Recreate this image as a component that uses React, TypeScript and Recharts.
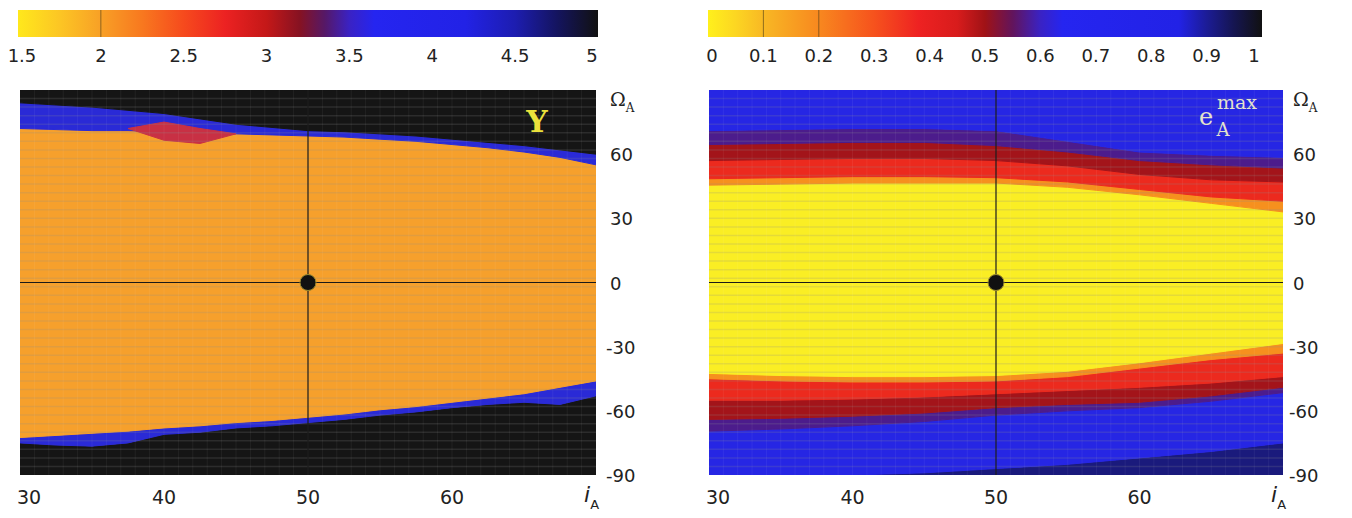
import React from 'react';
import { ComposedChart, Area, XAxis, YAxis, ReferenceLine, ReferenceDot } from 'recharts';

const FONT = '"DejaVu Sans", Verdana, sans-serif';
const SERIF = '"DejaVu Serif", "Liberation Serif", serif';
const INK = '#222222';

// colour bar scales
const UPS_DOMAIN = [1.5, 5];
const UPS_TICKS = [1.5, 2, 2.5, 3, 3.5, 4, 4.5, 5];
const UPS_STOPS = [1.5, 1.75, 2, 2.25, 2.5, 2.75, 3, 3.2, 3.35, 3.5, 3.65, 4.2, 4.5, 4.75, 5];
const UPS_COLORS = ['#ffe81c', '#fcc624', '#f8a026', '#f8781f', '#f64a1d', '#ec2222', '#c41818', '#861222', '#561866', '#3a22c4', '#2525f0', '#2222e6', '#1d1db0', '#141460', '#111111'];
const UPS_MARKS = [2];

const ECC_DOMAIN = [0, 1];
const ECC_TICKS = [0, 0.1, 0.2, 0.3, 0.4, 0.5, 0.6, 0.7, 0.8, 0.9, 1];
const ECC_STOPS = [0, 0.05, 0.1, 0.2, 0.3, 0.38, 0.45, 0.5, 0.55, 0.6, 0.64, 0.85, 0.9, 0.95, 1];
const ECC_COLORS = ['#fff01c', '#fcd622', '#f8b824', '#f8881f', '#f6521d', '#ee2222', '#d81c1c', '#a01216', '#62145c', '#3a22c4', '#2525f0', '#2222e6', '#1c1c96', '#151550', '#111111'];
const ECC_MARKS = [0.1, 0.2];

// panel axes
const X_TICKS = [30, 40, 50, 60, 70];
const Y_TICKS = [-90, -60, -30, 0, 30, 60, 90];

// left panel: Upsilon map, boundaries in Omega_A (deg) for each i_A
const L_I = [30, 32.5, 35, 37.5, 40, 42.5, 45, 47.5, 50, 52.5, 55, 57.5, 60, 62.5, 65, 67.5, 70];
const L_BLUE_TOP = [84, 83, 82, 80.5, 79, 76.5, 74, 72.5, 71, 70.5, 69.5, 68.5, 67, 65.5, 64, 62, 60];
const L_ORANGE_TOP = [72, 71.5, 71, 71, 70.5, 69, 69.5, 69, 68.5, 68, 67, 66, 64.5, 63, 61, 58.5, 55];
const L_ORANGE_BOT = [-72.5, -71.5, -70.5, -69.5, -68, -67, -65.5, -64.5, -63, -61.5, -59.5, -58, -56, -54, -52, -49, -46];
const L_BLUE_BOT = [-75, -76, -76.5, -75, -71, -70, -68, -67, -65.5, -64, -62, -60.5, -58.5, -57, -56, -57, -53];
const L_PATCH_LO = [null, null, null, 72, 66.5, 65, 69.5, null, null, null, null, null, null, null, null, null, null];
const L_PATCH_HI = [null, null, null, 72, 75, 72, 69.5, null, null, null, null, null, null, null, null, null, null];

// right panel: e_A^max map, band edges in Omega_A (deg) for each i_A
const R_I = [30, 35, 40, 45, 50, 55, 60, 65, 70];
const R_NAVY_TOP = [-90, -90, -90, -89, -87, -85, -82, -79, -75];
const R_PURPLE_LO = [-69.5, -68.5, -67, -65, -62, -60, -58.5, -55.5, -51.5];
const R_DKRED_LO = [-64, -63.5, -62.5, -61, -58.5, -57, -56, -53, -49];
const R_RED_LO = [-55, -55, -54.5, -53.5, -52, -50.5, -49, -47, -44];
const R_ORANGE_LO = [-45, -46, -46.5, -46.5, -46, -44, -40, -36, -33];
const R_YELLOW_LO = [-42.5, -43.5, -44, -44, -43.5, -41.5, -37.5, -33, -28.5];
const R_YELLOW_HI = [45.5, 46, 46.5, 46.5, 46.5, 44.5, 41, 37, 33];
const R_ORANGE_HI = [48.5, 49, 49.5, 49.5, 49, 47, 43.5, 40, 38];
const R_RED_HI = [57, 57.5, 58, 58, 57, 54.5, 50.5, 48, 47];
const R_DKRED_HI = [64.5, 65, 65.5, 65.5, 64, 61, 57, 55, 53.5];
const R_PURPLE_HI = [71, 71.5, 72, 72, 71, 66, 61, 59.5, 58.5];

const FLOOR = -90;
const CEIL = 90;

// faint raster rows / columns of the original map
const ROW_LINES = Array.from({ length: 44 }, (_, k) => -86 + 4 * k);
const COL_LINES = Array.from({ length: 39 }, (_, k) => 31 + k);

type Band = { key: string; color: string };

function buildRows(xs: number[], edges: number[][]) {
  return xs.map((i, k) => {
    const row: any = { i };
    for (let b = 0; b < edges.length - 1; b++) {
      row['b' + b] = [edges[b][k], edges[b + 1][k]];
    }
    return row;
  });
}

const leftEdges = [
  L_I.map(() => FLOOR), L_BLUE_BOT, L_ORANGE_BOT, L_ORANGE_TOP, L_BLUE_TOP, L_I.map(() => CEIL),
];
const leftBands: Band[] = ['#151515', '#2a2ad6', '#f6a02c', '#2a2ad6', '#151515'].map((c, b) => ({ key: 'b' + b, color: c }));
const leftRows = buildRows(L_I, leftEdges).map((r, k) => ({
  ...r,
  patch: L_PATCH_LO[k] == null ? null : [L_PATCH_LO[k], L_PATCH_HI[k]],
}));

const rightEdges = [
  R_I.map(() => FLOOR), R_NAVY_TOP, R_PURPLE_LO, R_DKRED_LO, R_RED_LO, R_ORANGE_LO, R_YELLOW_LO,
  R_YELLOW_HI, R_ORANGE_HI, R_RED_HI, R_DKRED_HI, R_PURPLE_HI, R_I.map(() => CEIL),
];
const rightBands: Band[] = [
  '#1a1a7c', '#2626e4', '#4c1c8c', '#a3141a', '#ec2a1e', '#f6901e', '#faee24',
  '#f6901e', '#ec2a1e', '#a3141a', '#4c1c8c', '#2626e4',
].map((c, b) => ({ key: 'b' + b, color: c }));
const rightRows = buildRows(R_I, rightEdges);

function Gradients() {
  const grad = (id: string, domain: number[], stops: number[], colors: string[]) => (
    <linearGradient id={id} x1="0" y1="0" x2="1" y2="0">
      {stops.map((s, k) => (
        <stop key={k} offset={(s - domain[0]) / (domain[1] - domain[0])} stopColor={colors[k]} />
      ))}
    </linearGradient>
  );
  return (
    <svg width={0} height={0} style={{ position: 'absolute' }}>
      <defs>
        {grad('gradUps', UPS_DOMAIN, UPS_STOPS, UPS_COLORS)}
        {grad('gradEcc', ECC_DOMAIN, ECC_STOPS, ECC_COLORS)}
      </defs>
    </svg>
  );
}

function ColorBar({ left, width, domain, ticks, marks, id, marginRight, shifts }: any) {
  const Tick = ({ x, y, payload }: any) => {
    const dx = payload.value === domain[0] ? shifts[0] : payload.value === domain[1] ? shifts[1] : 0;
    return (
      <text x={x + dx} y={y + 25} textAnchor="middle" fontSize={18} fontFamily={FONT} fill={INK}>
        {payload.value}
      </text>
    );
  };
  const data = [{ v: domain[0], band: [0, 1] }, { v: domain[1], band: [0, 1] }];
  return (
    <div style={{ position: 'absolute', left, top: 0 }}>
      <ComposedChart width={width} height={75} margin={{ top: 10, right: marginRight, bottom: 0, left: 18 }} data={data}>
        <XAxis type="number" dataKey="v" domain={domain} ticks={ticks} height={38} axisLine={false} tickLine={false} tickSize={0} tickMargin={0} tick={<Tick />} interval={0} />
        <YAxis type="number" hide domain={[0, 1]} />
        <Area type="linear" dataKey="band" fill={`url(#${id})`} fillOpacity={1} stroke="none" dot={false} activeDot={false} isAnimationActive={false} />
        {marks.map((m: number) => (
          <ReferenceLine key={m} x={m} stroke="#4a3a18" strokeOpacity={0.6} strokeWidth={1} />
        ))}
      </ComposedChart>
    </div>
  );
}

function XTick({ x, y, payload }: any) {
  const v = payload.value;
  if (v === 70) {
    return (
      <text x={x - 12} y={y + 27} fontFamily={FONT} fill={INK}>
        <tspan fontSize={22} fontStyle="italic">i</tspan>
        <tspan fontSize={13} dy={7}>A</tspan>
      </text>
    );
  }
  const dx = v === 30 ? 9 : 0;
  return (
    <text x={x + dx} y={y + 29} textAnchor="middle" fontSize={19} fontFamily={FONT} fill={INK}>
      {v}
    </text>
  );
}

const makeYTick = (gap: number) => ({ x, y, payload }: any) => {
  const v = payload.value;
  if (v === 90) {
    return (
      <text x={x + gap} y={y + 16} fontFamily={SERIF} fill={INK}>
        <tspan fontSize={19}>Ω</tspan>
        <tspan fontSize={12} dy={6}>A</tspan>
      </text>
    );
  }
  return (
    <text x={x + gap - (v < 0 ? 4 : 0)} y={y + 7} fontSize={18} fontFamily={FONT} fill={INK}>
      {v}
    </text>
  );
};

function Heatmap({ left, width, marginLeft, marginRight, axisWidth, gap, rows, bands, extra, overlay }: any) {
  const YTick = makeYTick(gap);
  return (
    <div style={{ position: 'absolute', left, top: 80, width, height: 438 }}>
      <ComposedChart width={width} height={438} data={rows} margin={{ top: 10, right: marginRight, bottom: 3, left: marginLeft }}>
        <XAxis type="number" dataKey="i" domain={[30, 70]} ticks={X_TICKS} interval={0} height={40} axisLine={false} tickLine={false} tickSize={0} tickMargin={0} tick={<XTick />} allowDataOverflow />
        <YAxis type="number" orientation="right" domain={[-90, 90]} ticks={Y_TICKS} interval={0} width={axisWidth} axisLine={false} tickLine={false} tickSize={0} tickMargin={0} tick={<YTick />} allowDataOverflow />
        {bands.map((b: Band) => (
          <Area key={b.key} type="linear" dataKey={b.key} fill={b.color} fillOpacity={1} stroke={b.color} strokeWidth={1} dot={false} activeDot={false} isAnimationActive={false} />
        ))}
        {extra}
        {ROW_LINES.map((r) => (
          <ReferenceLine key={'r' + r} y={r} stroke="#8a8a8a" strokeOpacity={0.2} strokeWidth={1.5} />
        ))}
        {COL_LINES.map((c) => (
          <ReferenceLine key={'c' + c} x={c} stroke="#ffffff" strokeOpacity={0.06} strokeWidth={1} />
        ))}
        <ReferenceLine x={50} stroke="#1a1a1a" strokeWidth={1.2} />
        <ReferenceLine y={0} stroke="#1a1a1a" strokeWidth={1.2} />
        <ReferenceDot x={50} y={0} r={8} fill="#111111" stroke="#9a8a30" strokeWidth={1} />
      </ComposedChart>
      <svg width={width} height={438} style={{ position: 'absolute', left: 0, top: 0, pointerEvents: 'none' }}>
        {overlay}
      </svg>
    </div>
  );
}

export default function App() {
  return (
    <div style={{ position: 'absolute', left: 0, top: 0, width: 1352, height: 518, background: '#ffffff', overflow: 'hidden' }}>
      <Gradients />
      <ColorBar left={0} width={640} domain={UPS_DOMAIN} ticks={UPS_TICKS} marks={UPS_MARKS} id="gradUps" marginRight={42} shifts={[4, -6]} />
      <ColorBar left={690} width={662} domain={ECC_DOMAIN} ticks={ECC_TICKS} marks={ECC_MARKS} id="gradEcc" marginRight={90} shifts={[4, -8]} />
      <Heatmap
        left={0}
        width={680}
        marginLeft={20}
        marginRight={24}
        axisWidth={60}
        gap={14}
        rows={leftRows}
        bands={leftBands}
        extra={<Area type="linear" dataKey="patch" fill="#c83044" fillOpacity={1} stroke="#c83044" strokeWidth={1} dot={false} activeDot={false} isAnimationActive={false} />}
        overlay={
          <text x={537} y={52} textAnchor="middle" fontSize={30} fontFamily={SERIF} fontWeight="bold" fill="#ece23c">Υ</text>
        }
      />
      <Heatmap
        left={690}
        width={662}
        marginLeft={19}
        marginRight={14}
        axisWidth={55}
        gap={10}
        rows={rightRows}
        bands={rightBands}
        overlay={
          <g fontFamily={SERIF} fill="#e4e2cc">
            <text x={516} y={45} textAnchor="middle" fontSize={24}>e</text>
            <text x={547} y={29} textAnchor="middle" fontSize={19}>max</text>
            <text x={533} y={56} textAnchor="middle" fontSize={18}>A</text>
          </g>
        }
      />
    </div>
  );
}
